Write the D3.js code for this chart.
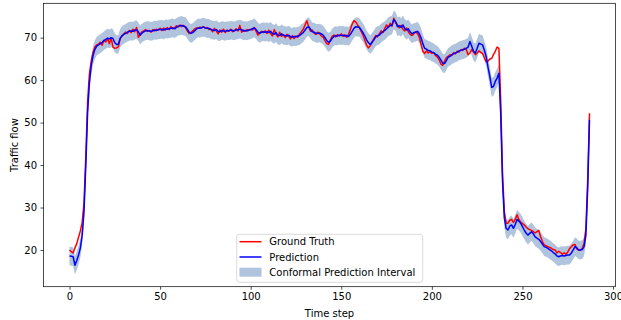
<!DOCTYPE html>
<html>
<head>
<meta charset="utf-8">
<script src="https://cdn.jsdelivr.net/npm/d3@7"></script>
<style>
  html, body { margin: 0; padding: 0; background: #ffffff; }
  svg { display: block; }
  text { font-family: "DejaVu Sans", sans-serif; fill: #000; }
</style>
</head>
<body>
<svg id="chart" width="621" height="320"></svg>
<script>
// ---------------- data ----------------
const groundTruth = [
  20.0,19.6,19.3,20.5,21.5,23.0,24.5,26.5,31.0,42.0,55.0,61.5,64.5,66.5,67.8,68.3,
  68.5,68.9,68.2,69.4,69.0,69.8,68.6,69.9,67.8,67.5,67.6,67.9,
  69.8,70.4,70.9,71.3,71.0,71.7,71.2,72.0,71.4,72.4,70.1,70.8,
  71.4,71.6,71.9,71.5,71.7,71.3,71.9,71.6,72.0,71.8,
  72.2,71.7,72.3,71.8,72.4,71.9,72.6,72.1,72.3,72.8,
  72.5,73.0,72.6,72.9,72.4,71.6,71.0,71.2,71.6,72.0,
  72.3,72.2,72.5,72.3,72.6,72.2,72.4,71.9,72.1,71.4,
  72.2,71.6,70.9,71.8,71.3,72.0,71.2,71.8,71.5,72.0,
  71.4,71.7,72.1,71.6,72.9,71.3,71.8,71.5,71.9,71.7,
  72.0,71.8,72.4,71.5,70.6,71.1,71.5,71.2,71.6,71.0,
  71.8,71.0,70.4,71.9,70.8,70.2,71.3,70.3,70.7,70.0,
  70.8,70.3,69.7,70.5,69.8,70.4,70.1,70.9,71.4,72.0,
  73.0,74.0,72.6,71.5,71.8,71.1,70.8,71.3,70.9,70.4,
  70.1,69.3,68.6,68.4,69.5,70.3,70.6,70.2,70.7,70.4,
  70.9,70.3,70.7,70.1,70.8,71.9,73.2,74.0,73.7,73.0,
  72.4,71.5,70.6,69.4,68.2,67.6,68.1,69.0,69.8,70.5,
  70.2,70.9,71.6,71.2,72.2,73.0,72.4,73.4,72.7,74.6,
  73.5,73.1,72.3,72.9,72.0,71.6,72.3,71.4,70.8,70.5,
  70.9,71.4,71.0,70.2,68.5,66.8,66.3,66.9,66.4,66.7,
  66.3,66.5,65.8,65.5,64.8,63.8,63.5,64.5,65.3,65.6,
  66.0,65.8,66.5,66.2,66.8,66.6,67.2,67.0,67.5,67.2,
  66.0,66.4,67.2,66.6,66.0,66.4,66.9,66.5,66.3,65.2,
  64.3,64.5,65.0,65.1,66.0,66.8,67.8,67.5,55.0,38.0,
  29.0,26.3,26.3,27.0,27.2,26.5,27.2,28.3,27.2,26.6,
  26.2,25.9,25.4,25.0,24.8,24.6,24.3,24.0,24.3,24.6,
  23.1,22.0,21.2,21.0,20.8,20.6,20.4,20.1,20.0,19.3,
  19.7,19.4,19.0,19.3,19.0,19.5,20.3,20.8,21.2,21.3,
  20.2,20.0,20.0,20.4,21.5,25.0,36.5,52.2
];
const prediction = [
  18.6,18.5,18.4,16.4,17.5,18.8,20.5,23.5,29.0,40.0,52.5,59.5,63.5,65.8,67.2,68.0,
  68.3,68.6,68.9,69.3,69.6,69.9,69.7,70.0,69.8,68.8,68.4,68.5,
  69.9,70.5,70.8,71.0,71.3,71.5,71.6,71.5,71.8,71.9,71.4,70.6,
  71.1,71.4,71.6,71.7,71.6,71.5,71.6,71.8,71.7,71.9,
  71.9,72.0,71.8,72.1,72.0,72.1,72.2,72.3,72.1,72.4,
  72.7,72.8,72.9,72.7,72.6,72.0,71.3,71.0,71.2,71.6,
  72.0,72.3,72.2,72.4,72.5,72.3,72.2,72.2,71.9,71.8,
  71.7,71.9,71.5,71.4,71.7,71.6,71.5,71.7,71.6,71.8,
  71.7,71.6,71.8,71.9,72.0,71.9,71.6,71.7,71.6,71.8,
  71.9,72.1,72.3,71.9,71.3,71.0,71.3,71.4,71.3,71.4,
  71.2,71.5,71.0,70.8,71.2,70.6,70.5,70.9,70.6,70.5,
  70.4,70.6,70.2,70.1,70.3,70.2,70.4,70.5,70.9,71.2,
  71.8,72.4,72.6,72.0,71.4,71.3,71.0,71.0,71.1,70.9,
  70.6,70.0,69.3,68.9,69.2,69.9,70.3,70.5,70.4,70.6,
  70.5,70.6,70.4,70.5,70.3,70.8,71.5,72.2,72.6,72.5,
  72.4,71.8,71.2,70.4,69.5,68.8,68.4,68.9,69.5,70.2,
  70.5,70.6,71.1,71.4,71.7,72.1,72.6,72.8,73.0,74.2,
  73.8,72.6,72.8,72.4,73.0,72.2,71.8,72.1,71.4,70.9,
  71.2,71.3,71.5,71.0,70.0,68.6,67.5,67.3,67.0,66.9,
  66.6,66.5,66.1,65.9,65.4,64.7,64.0,63.9,64.6,65.4,
  65.6,66.0,66.2,66.4,66.6,66.9,67.0,67.2,67.3,67.5,
  67.8,69.1,68.0,66.8,66.4,67.5,68.7,68.5,68.3,67.0,
  65.5,63.0,60.9,58.3,58.5,59.7,60.5,61.6,52.0,36.0,
  27.5,25.1,24.7,25.6,25.9,25.1,26.0,27.2,26.8,26.3,
  25.5,24.7,24.0,23.5,23.9,24.3,23.8,23.1,22.8,22.5,
  22.0,21.4,20.8,20.6,20.4,20.1,19.8,19.4,19.1,18.6,
  18.4,18.6,18.7,18.6,18.7,18.8,18.8,19.3,20.0,20.8,
  20.5,20.0,20.0,20.1,20.8,23.5,34.5,50.6
];
const intervalHalfWidth = 2.2;           // conformal quantile q
const xTicks = [0, 50, 100, 150, 200, 250, 300];
const yTicks = [20, 30, 40, 50, 60, 70];
const seriesNames = ["Ground Truth", "Prediction", "Conformal Prediction Interval"];
const seriesColors = ["#ff0000", "#0000ff", "#b0c4de"];
const xLabel = "Time step";
const yLabel = "Traffic flow";

// ---------------- layout ----------------
const svg = d3.select("#chart");
const plot = { left: 43.5, right: 615.5, top: 3.3, bottom: 286.7 };
const fontSize = 10;

const timeSteps = d3.range(groundTruth.length);
const x = d3.scaleLinear().domain([-14.35, 301.35]).range([plot.left, plot.right]);
const y = d3.scaleLinear().domain([11.35, 78.1]).range([plot.bottom, plot.top]);

const g = svg.append("g");

// band
const area = d3.area()
  .x((d, i) => x(timeSteps[i]))
  .y0(d => y(d - intervalHalfWidth))
  .y1(d => y(d + intervalHalfWidth));
g.append("path").datum(prediction)
  .attr("d", area)
  .attr("fill", seriesColors[2])
  .attr("stroke", "none");

const line = d3.line().x((d, i) => x(timeSteps[i])).y(d => y(d));
g.append("path").datum(groundTruth)
  .attr("d", line).attr("fill", "none")
  .attr("stroke", seriesColors[0]).attr("stroke-width", 1.5)
  .attr("stroke-linejoin", "round").attr("stroke-linecap", "butt");
g.append("path").datum(prediction)
  .attr("d", line).attr("fill", "none")
  .attr("stroke", seriesColors[1]).attr("stroke-width", 1.5)
  .attr("stroke-linejoin", "round").attr("stroke-linecap", "butt");

// axes
const xAxis = d3.axisBottom(x).tickValues(xTicks).tickSize(3).tickPadding(3).tickFormat(d3.format("d"));
const yAxis = d3.axisLeft(y).tickValues(yTicks).tickSize(3).tickPadding(3.5).tickFormat(d3.format("d"));

const gx = svg.append("g").attr("transform", `translate(0,${plot.bottom})`).call(xAxis);
const gy = svg.append("g").attr("transform", `translate(${plot.left},0)`).call(yAxis);
[gx, gy].forEach(a => {
  a.select(".domain").remove();
  a.selectAll(".tick line").attr("stroke", "#000").attr("stroke-width", 0.7);
  a.selectAll(".tick text").attr("font-size", fontSize).attr("font-family", "DejaVu Sans").attr("fill", "#000");
});

// frame
svg.append("rect")
  .attr("x", plot.left).attr("y", plot.top)
  .attr("width", plot.right - plot.left).attr("height", plot.bottom - plot.top)
  .attr("fill", "none").attr("stroke", "#000").attr("stroke-width", 0.7);

// axis labels
svg.append("text").attr("x", (plot.left + plot.right) / 2).attr("y", 316.5)
  .attr("text-anchor", "middle").attr("font-size", fontSize).text(xLabel);
svg.append("text").attr("transform", `translate(18,${(plot.top + plot.bottom) / 2}) rotate(-90)`)
  .attr("text-anchor", "middle").attr("font-size", fontSize).text(yLabel);

// legend
const lg = svg.append("g");
const lx = 236.7, ly = 234.3, lw = 186, lh = 48;
lg.append("rect").attr("x", lx).attr("y", ly).attr("width", lw).attr("height", lh)
  .attr("rx", 2.5).attr("fill", "#fff").attr("fill-opacity", 0.8)
  .attr("stroke", "#cccccc").attr("stroke-width", 0.7);
const rowY = [241.7, 257.0, 272.2];
seriesNames.forEach((name, i) => {
  if (i < 2) {
    lg.append("line").attr("x1", 239.5).attr("x2", 261.5).attr("y1", rowY[i]).attr("y2", rowY[i])
      .attr("stroke", seriesColors[i]).attr("stroke-width", 1.5);
  } else {
    lg.append("rect").attr("x", 239.5).attr("y", rowY[i] - 4.5).attr("width", 22).attr("height", 9)
      .attr("fill", seriesColors[i]);
  }
  lg.append("text").attr("x", 269.3).attr("y", rowY[i] + 3.6)
    .attr("font-size", fontSize).text(name);
});
</script>
</body>
</html>
